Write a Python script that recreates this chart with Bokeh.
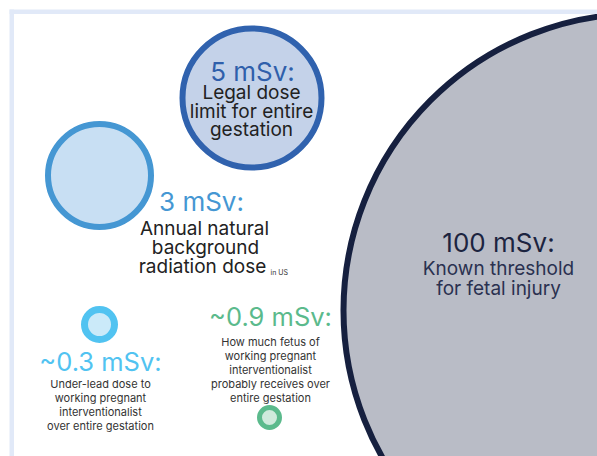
from bokeh.plotting import figure
from bokeh.models import ColumnDataSource, Range1d, BoxAnnotation
from bokeh.core.properties import value
from bokeh.embed import file_html
from bokeh.resources import INLINE

# ---- data ----
doses = ["100 mSv", "5 mSv", "3 mSv", "0.3 mSv", "0.9 mSv"]
dose_values = [100, 5, 3, 0.3, 0.9]
bubble_x = [640, 251.5, 99, 99, 269]
bubble_y = [310, 97.5, 175, 324, 417]
bubble_r = [297, 69.5, 51.5, 15, 10]
bubble_lw = [6, 6, 6, 7, 5]
bubble_fill = ["#b9bcc6", "#c4d2e9", "#c8dff3", "#cbeaf9", "#cfeadc"]
bubble_line = ["#16203f", "#3062ae", "#4597d3", "#51c3f1", "#5bba8c"]

titles = ["100 mSv:", "5 mSv:", "3 mSv:", "~0.3 mSv:", "~0.9 mSv:"]
title_x = [498, 252, 201, 100, 270]
title_y = [242, 71, 201, 361, 316]
title_size = ["26px", "26px", "26px", "25.5px", "25.5px"]
title_color = ["#1c2440", "#2f5fab", "#4597d3", "#51c3f1", "#5bba8c"]

big_lines = ["Known threshold", "for fetal injury",
             "Legal dose", "limit for entire", "gestation",
             "Annual natural", "background", "radiation dose"]
big_x = [498, 498, 251, 251, 251, 204, 205, 202]
big_y = [268, 288, 92, 111, 129, 228, 247, 266]
big_color = ["#2a3150", "#2a3150", "#222222", "#222222", "#222222",
             "#222222", "#222222", "#222222"]

small_lines = ["Under-lead dose to", "working pregnant", "interventionalist",
               "over entire gestation",
               "How much fetus of", "working pregnant", "interventionalist",
               "probably receives over", "entire gestation"]
small_x = [100, 100, 100, 100, 270, 270, 270, 270, 270]
small_y = [383, 397, 411, 425, 341, 355, 369, 383, 397]

note = ["in US"]
note_x = [270]
note_y = [272]

FONT = "Inter"

p = figure(width=597, height=456, output_backend="svg", toolbar_location=None,
           x_range=Range1d(0, 597), y_range=Range1d(456, 0),
           min_border=0, background_fill_color="white",
           border_fill_color="white", outline_line_color=None)
p.axis.visible = False
p.grid.visible = False

# frame bands
p.add_layout(BoxAnnotation(left=9, right=597, top=9, bottom=13.5,
                           fill_color="#e1e9f8", fill_alpha=1, line_color=None))
p.add_layout(BoxAnnotation(left=9, right=13.5, top=9, bottom=456,
                           fill_color="#e1e9f8", fill_alpha=1, line_color=None))

src = ColumnDataSource(dict(x=bubble_x, y=bubble_y, r=bubble_r, lw=bubble_lw,
                            fill=bubble_fill, line=bubble_line, dose=dose_values))
p.circle(x="x", y="y", radius="r", fill_color="fill", line_color="line",
         line_width="lw", source=src)

tsrc = ColumnDataSource(dict(x=title_x, y=title_y, t=titles, s=title_size, c=title_color))
p.text(x="x", y="y", text="t", text_font_size="s", text_color="c",
       text_font=value(FONT), text_font_style="normal",
       text_align="center", text_baseline="middle", source=tsrc)

bsrc = ColumnDataSource(dict(x=big_x, y=big_y, t=big_lines, c=big_color))
p.text(x="x", y="y", text="t", text_font_size="19px", text_color="c",
       text_font=value(FONT), text_align="center", text_baseline="middle",
       source=bsrc)

ssrc = ColumnDataSource(dict(x=small_x, y=small_y, t=small_lines))
p.text(x="x", y="y", text="t", text_font_size="11px", text_color="#333333",
       text_font=value(FONT), text_align="center", text_baseline="middle",
       source=ssrc)

nsrc = ColumnDataSource(dict(x=note_x, y=note_y, t=note))
p.text(x="x", y="y", text="t", text_font_size="7px", text_color="#333333",
       text_font=value(FONT), text_align="left", text_baseline="middle",
       source=nsrc)

open("out.html", "w").write(file_html(p, INLINE))
